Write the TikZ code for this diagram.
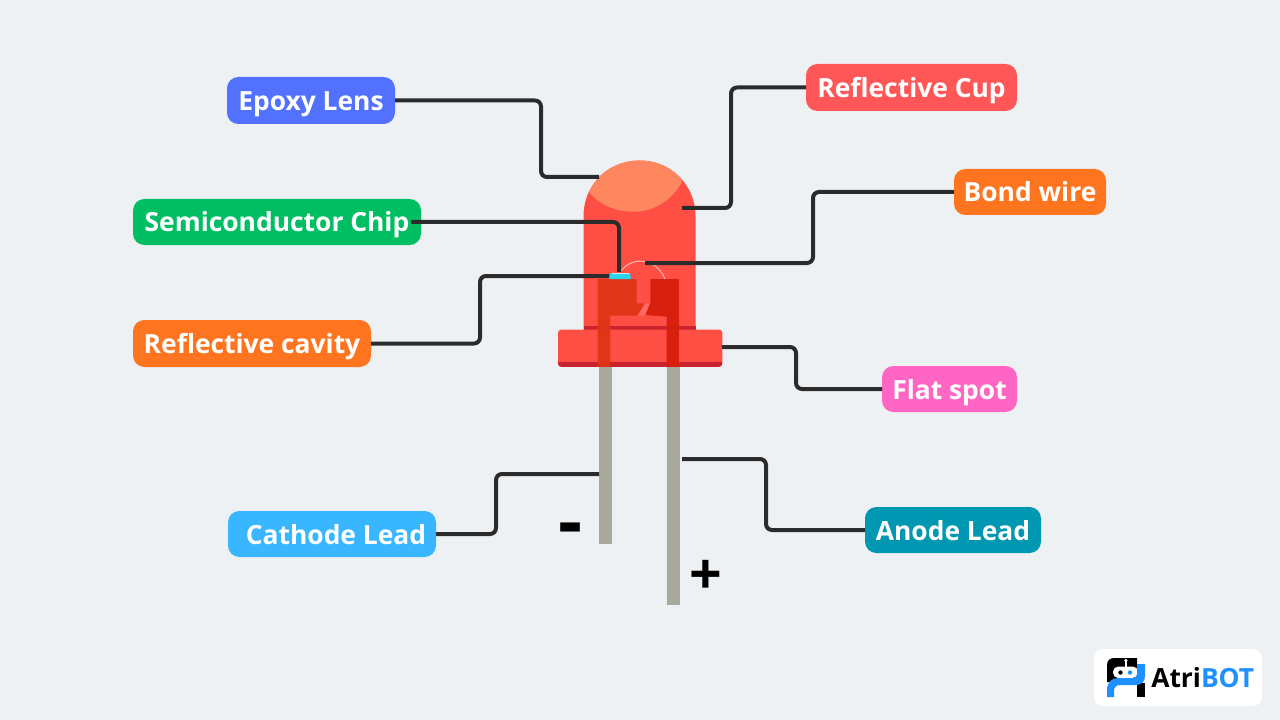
\documentclass[tikz,border=0pt]{standalone}
\usepackage{fontspec}
\setmainfont{Open Sans}
\usetikzlibrary{calc}
\definecolor{bgc}{HTML}{EEF1F4}
\definecolor{wirec}{HTML}{2B2B2B}
\definecolor{bodyc}{HTML}{FF4F45}
\definecolor{domec}{HTML}{FF875F}
\definecolor{bandc}{HTML}{C9242D}
\definecolor{cathc}{HTML}{E03416}
\definecolor{anodc}{HTML}{D81D0C}
\definecolor{legc}{HTML}{A9A99B}
\definecolor{chipc}{HTML}{2BD3EE}
\definecolor{atriblue}{HTML}{1E90FF}
\definecolor{tagblue}{HTML}{5271FF}
\definecolor{tagred}{HTML}{FF5757}
\definecolor{taggreen}{HTML}{00BF63}
\definecolor{tagorange}{HTML}{FF751F}
\definecolor{tagpink}{HTML}{FF66C4}
\definecolor{tagsky}{HTML}{38B6FF}
\definecolor{tagteal}{HTML}{0097B2}
\tikzset{
  x=0.75pt,y=-0.75pt,
  tag/.style={text=white,font=\bfseries\fontsize{19.8}{24}\selectfont,inner sep=0pt,anchor=base},
  leader/.style={draw=wirec,line width=3pt,rounded corners=4.5pt},
}
\newcommand{\tagbox}[7]{%
  \fill[#6,rounded corners=8.5pt] (#2,#3) rectangle (#4,#5);
  \node[tag] (#1) at ({(#2+#4)/2},{(#3+#5)/2+10}) {#7};
  \coordinate (#1-a) at (#2,{(#3+#5)/2});
  \coordinate (#1-b) at (#4,{(#3+#5)/2});
}
\begin{document}
\begin{tikzpicture}
\useasboundingbox (0,0) rectangle (1280,720);
\fill[bgc] (0,0) rectangle (1280,720);

% metal legs below the base
\fill[legc] (599.3,360) rectangle (611.7,544.3);
\fill[legc] (667.3,360) rectangle (680,605);

% epoxy body with its dome
\fill[bodyc] (583.5,330) -- (583.5,216) .. controls (583.5,185) and (608,160.5) .. (639.5,160.5)
  .. controls (671,160.5) and (695.5,185) .. (695.5,216) -- (695.5,330) -- cycle;
\fill[domec] (589.3,192.5) .. controls (596,174) and (616,160.5) .. (639.5,160.5)
  .. controls (658,160.5) and (673,168) .. (682.3,181)
  .. controls (672,201) and (653,212) .. (633,211.7)
  .. controls (614,211.5) and (599,204) .. (589.3,192.5) -- cycle;
\fill[bandc] (583.5,325.7) rectangle (695.5,330);

% base flange
\fill[bodyc,rounded corners=2.5pt] (558,329.5) rectangle (722.3,366.8);
\begin{scope}
  \clip[rounded corners=2.5pt] (558,329.5) rectangle (722.3,366.8);
  \fill[bandc] (558,362.4) rectangle (722.3,366.8);
\end{scope}

% lead frame inside the body
\fill[bodyc!85!white] (645,303.3) -- (649.5,303.3) -- (645.5,315) -- (637.5,316) -- cycle;
\fill[cathc,opacity=.95] (597.7,279) -- (636.7,279) -- (636.7,303.3) -- (645,303.3) -- (637.3,315.7)
  -- (610.3,315.7) -- (610.3,366.8) -- (597.7,366.8) -- cycle;
\fill[anodc,opacity=.95] (650.3,279) -- (679,279) -- (679,366.8) -- (666.7,366.8) -- (666.7,316.7)
  -- (645.3,315) -- (650.3,303.3) -- cycle;

% bond wire and chip
\draw[white!65!bodyc,line width=0.7pt] (620,272) .. controls (626,264) and (634,261) .. (641,261)
  .. controls (652,261.5) and (661,269) .. (665,279);
\fill[chipc] (609,279) -- (610.5,273) -- (630,273) -- (631,279) -- cycle;
\fill[white!70!chipc] (612,272.6) rectangle (629,273.8);

% labels
\tagbox{epoxy}{227}{77}{395}{124}{tagblue}{Epoxy Lens}
\tagbox{cup}{806}{64}{1017}{111}{tagred}{Reflective Cup}
\tagbox{chip}{133}{199}{421}{245}{taggreen}{Semiconductor Chip}
\tagbox{cavity}{133}{320}{371}{367}{tagorange}{Reflective cavity}
\tagbox{bond}{954}{169}{1106}{215}{tagorange}{Bond wire}
\tagbox{flat}{882}{366}{1017}{412}{tagpink}{Flat spot}
\tagbox{cath}{228}{511}{436}{557}{tagsky}{\hspace{6pt}Cathode Lead}
\tagbox{anod}{865}{507}{1041}{553}{tagteal}{Anode Lead}

% free ends of the leaders on the LED
\coordinate (e-epoxy) at (599,177);
\coordinate (e-cup) at (682,208);
\coordinate (e-chip) at (619,272);
\coordinate (e-cavity) at (609,276);
\coordinate (e-bond) at (645,263);
\coordinate (e-flat) at (722,347);
\coordinate (e-cath) at (599,474);
\coordinate (e-anod) at (682,459);

\draw[leader] (epoxy-b) -- (541,100.5) -- (541,177) -- (e-epoxy);
\draw[leader] (cup-a) -- (731,87.5) -- (731,208) -- (e-cup);
\draw[leader] ($(chip-b)+(-10,0)$) -- (619,222) -- (e-chip);
\draw[leader] (cavity-b) -- (480,343.5) -- (480,276) -- (e-cavity);
\draw[leader] (bond-a) -- (813,192) -- (813,263) -- (e-bond);
\draw[leader] (flat-a) -- (796,389) -- (796,347) -- (e-flat);
\draw[leader] (cath-b) -- (496,534) -- (496,474) -- (e-cath);
\draw[leader] (anod-a) -- (766,530) -- (766,459) -- (e-anod);

% polarity marks
\node[font=\bfseries\fontsize{56}{60}\selectfont,inner sep=0pt,anchor=base] (minus) at (570.8,547) {-};
\node[font=\bfseries\fontsize{43}{46}\selectfont,inner sep=0pt,anchor=base] (plus) at (705.6,594) {+};

% brand badge
\fill[white,rounded corners=7pt] (1094,649) rectangle (1262,706);
\fill[black] (1107,682) -- (1107,665) .. controls (1107,660.5) and (1110,658) .. (1114,658) -- (1137,658) -- (1137,682) -- cycle;
\fill[black] (1137,683) rectangle (1144.5,697);
\fill[white,rounded corners=4pt] (1113,666.5) rectangle (1138,678);
\fill[white] (1125.2,660) rectangle (1126.6,667);
\fill[white] (1125.9,660.5) circle (1.8);
\fill[black] (1120.5,672.5) circle (2.2);
\fill[atriblue] (1130,672.5) circle (2.2);
\fill[atriblue] (1137,664) -- (1145,664) -- (1145,676) .. controls (1145,681.5) and (1141.5,685) .. (1136,685)
  -- (1120,685) .. controls (1116,685) and (1114,687.5) .. (1114,691) -- (1114,697) -- (1107,697) -- (1107,690)
  .. controls (1107,682.5) and (1111.5,678) .. (1118,678)
  -- (1133,678) .. controls (1135.5,678) and (1137,676.5) .. (1137,674) -- cycle;
\node[anchor=base west,inner sep=0pt,font=\bfseries\fontsize{19.8}{24}\selectfont] (brand) at (1151,687) {Atri\textcolor{atriblue}{BOT}};
\end{tikzpicture}
\end{document}
